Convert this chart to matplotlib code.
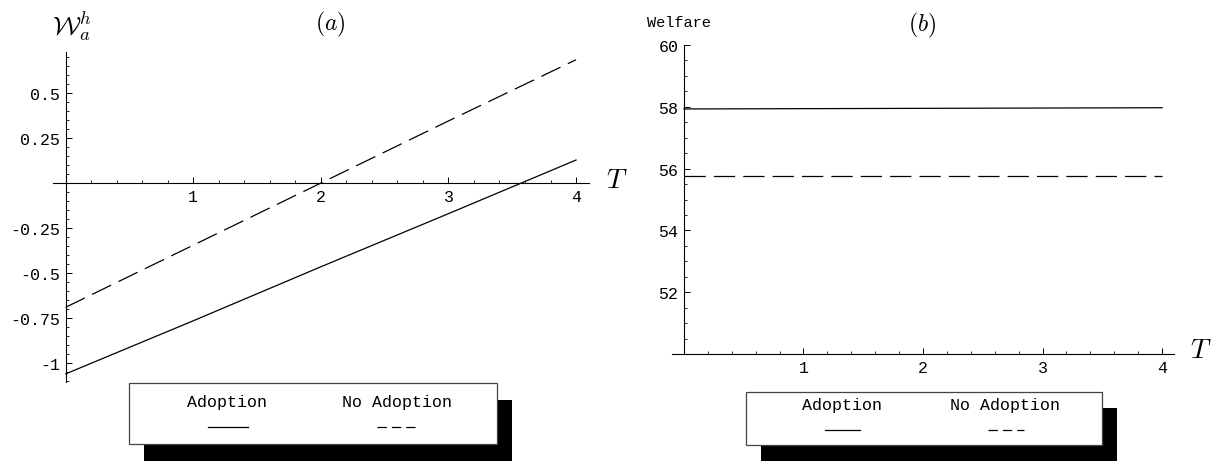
#!/bin/env python3

import numpy as np
import matplotlib
matplotlib.use('Agg')
import matplotlib.pyplot as plt
from matplotlib.patches import Rectangle
from matplotlib.lines import Line2D
from matplotlib.ticker import MultipleLocator, FixedLocator, FixedFormatter

# data
T = [0, 1, 2, 3, 4]
adoption_a = [-1.06, -0.765, -0.465, -0.17, 0.128]
no_adoption_a = [-0.69, -0.345, 0.0, 0.345, 0.685]

T_b = [0, 4]
adoption_b = [57.93, 57.97]
no_adoption_b = [55.77, 55.77]

xticks = [1, 2, 3, 4]
xtick_labels = ['1', '2', '3', '4']
yticks_a = [-1, -0.75, -0.5, -0.25, 0.25, 0.5]
ytick_labels_a = ['-1', '-0.75', '-0.5', '-0.25', '0.25', '0.5']
yticks_b = [52, 54, 56, 58, 60]
ytick_labels_b = ['52', '54', '56', '58', '60']
legend_labels = ['Adoption', 'No Adoption']

W, H = 1222, 464
MONO = 'Liberation Mono'
DASH = (17, 6.5)


def fx(px):
    return px / W


def fy(py):
    return 1 - py / H


def style_axis(ax):
    for s in ['top', 'right']:
        ax.spines[s].set_visible(False)
    for s in ['left', 'bottom']:
        ax.spines[s].set_linewidth(0.8)
    ax.tick_params(which='major', direction='in', length=4.5, width=0.7,
                   labelsize=12, pad=4)
    ax.tick_params(which='minor', direction='in', length=2.5, width=0.6)
    for lab in ax.get_xticklabels() + ax.get_yticklabels():
        lab.set_fontfamily(MONO)
    ax.patch.set_alpha(0)


def legend(x0, y0, x1, y1, shadow, txt_y, line_y, cols, samples):
    sx, sy = shadow
    fig.add_artist(Rectangle((fx(x0 + sx), fy(y1 + sy)), (x1 - x0) / W,
                             (y1 - y0) / H, transform=fig.transFigure,
                             facecolor='black', edgecolor='black', lw=0))
    fig.add_artist(Rectangle((fx(x0), fy(y1)), (x1 - x0) / W, (y1 - y0) / H,
                             transform=fig.transFigure, facecolor='white',
                             edgecolor='#444444', lw=0.9))
    for lab, cx in zip(legend_labels, cols):
        fig.text(fx(cx), fy(txt_y), lab, ha='center', va='center',
                 family=MONO, fontsize=12)
    (a0, a1), (b0, b1) = samples
    fig.add_artist(Line2D([fx(a0), fx(a1)], [fy(line_y)] * 2,
                          transform=fig.transFigure, color='black', lw=0.9))
    fig.add_artist(Line2D([fx(b0), fx(b1)], [fy(line_y)] * 2,
                          transform=fig.transFigure, color='black', lw=0.9,
                          dashes=(7.5, 4)))


plt.rcParams['mathtext.fontset'] = 'cm'
fig = plt.figure(figsize=(W / 100, H / 100), dpi=100)

# panel (a)
ax_a = fig.add_axes([fx(52.9), fy(383), (588.8 - 52.9) / W, (383 - 53) / H])
ax_a.plot(T, adoption_a, color='black', lw=0.9)
ax_a.plot(T, no_adoption_a, color='black', lw=0.9, dashes=DASH)
ax_a.set_xlim(-0.1, 4.1)
ax_a.set_ylim(-1.105, 0.728)
ax_a.spines['left'].set_position(('data', 0))
ax_a.spines['bottom'].set_position(('data', 0))
ax_a.xaxis.set_major_locator(FixedLocator(xticks))
ax_a.xaxis.set_major_formatter(FixedFormatter(xtick_labels))
ax_a.xaxis.set_minor_locator(MultipleLocator(0.2))
ax_a.yaxis.set_major_locator(FixedLocator(yticks_a))
ax_a.yaxis.set_major_formatter(FixedFormatter(ytick_labels_a))
ax_a.yaxis.set_minor_locator(MultipleLocator(0.05))
style_axis(ax_a)

fig.text(fx(72), fy(26), r'$\mathcal{W}_a^h$', ha='center', va='center',
         fontsize=19)
fig.text(fx(330), fy(24), r'$(a)$', ha='center', va='center', fontsize=17)
fig.text(fx(617), fy(180), r'$T$', ha='center', va='center', fontsize=20)

# panel (b)
ax_b = fig.add_axes([fx(672), fy(355), (1174 - 672) / W, (355 - 46) / H])
ax_b.plot(T_b, adoption_b, color='black', lw=0.9)
ax_b.plot(T_b, no_adoption_b, color='black', lw=0.9, dashes=DASH)
ax_b.set_xlim(-0.1, 4.1)
ax_b.set_ylim(50, 60)
ax_b.spines['left'].set_position(('data', 0))
ax_b.xaxis.set_major_locator(FixedLocator(xticks))
ax_b.xaxis.set_major_formatter(FixedFormatter(xtick_labels))
ax_b.xaxis.set_minor_locator(MultipleLocator(0.2))
ax_b.yaxis.set_major_locator(FixedLocator(yticks_b))
ax_b.yaxis.set_major_formatter(FixedFormatter(ytick_labels_b))
ax_b.yaxis.set_minor_locator(MultipleLocator(0.5))
style_axis(ax_b)

fig.text(fx(647), fy(23), 'Welfare', ha='left', va='center', family=MONO,
         fontsize=11)
fig.text(fx(922), fy(25), r'$(b)$', ha='center', va='center', fontsize=17)
fig.text(fx(1201), fy(350), r'$T$', ha='center', va='center', fontsize=20)

# legends with drop shadow
legend(129, 384, 497, 445, (15, 17), 402, 428, [227, 397],
       [(208, 248), (377, 418)])
legend(746, 393, 1102, 446, (15, 16), 406, 431, [842, 1005],
       [(825, 860), (988, 1024)])

fig.savefig('out.png', dpi=100)
